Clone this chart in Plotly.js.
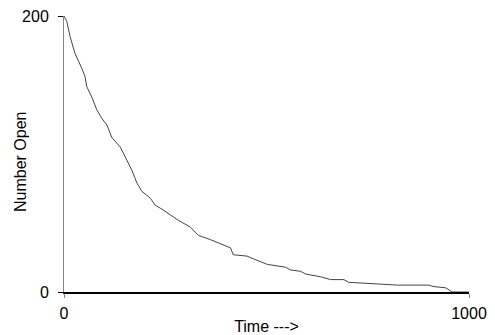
<!DOCTYPE html>
<html>
<head>
<meta charset="utf-8">
<script src="https://cdn.plot.ly/plotly-3.0.1.min.js"></script>
<style>html,body{margin:0;padding:0;background:#fff;}#chart{width:495px;height:335px;}</style>
</head>
<body>
<div id="chart"></div>
<script>
// Time values
var time = [0, 7, 15, 27, 44, 52, 56, 69, 81, 93, 106, 118, 139, 151, 168, 180, 192, 213, 225, 242, 257, 282, 312, 332, 361, 386, 411, 418, 452, 468, 502, 547, 559, 584, 597, 634, 658, 691, 703, 765, 823, 901, 911, 943, 955, 958, 1000];
// Number of channels open at each time
var numberOpen = [200, 196, 185, 173, 162, 156, 149, 141, 132, 126, 121, 112, 105, 98, 88, 79, 73, 68, 63, 60, 57, 52, 47, 41, 38, 35, 32, 27, 26, 24, 20, 18, 16, 15, 13, 11, 9, 9, 7, 6, 5, 5, 4, 3, 1, 0, 0];
var xTicks = [0, 1000];
var yTicks = [0, 200];

var trace = {
  x: time,
  y: numberOpen,
  type: 'scatter',
  mode: 'lines',
  line: {color: '#444444', width: 1},
  hoverinfo: 'skip'
};

var layout = {
  width: 495,
  height: 335,
  margin: {l: 64, r: 26, t: 16, b: 43},
  paper_bgcolor: '#ffffff',
  plot_bgcolor: '#ffffff',
  showlegend: false,
  font: {family: 'Liberation Sans, Arial, sans-serif', size: 16, color: '#000'},
  xaxis: {
    range: [0, 1000],
    tickvals: xTicks,
    ticktext: xTicks.map(String),
    showgrid: false,
    zeroline: false,
    showline: true,
    linecolor: '#000',
    linewidth: 2,
    ticks: 'outside',
    ticklen: 4,
    tickcolor: '#888',
    ticklabelstandoff: 2,
    tickfont: {size: 16},
    title: {text: 'Time --->', font: {size: 16}, standoff: 0}
  },
  yaxis: {
    range: [0, 200],
    tickvals: yTicks,
    ticktext: yTicks.map(String),
    showgrid: false,
    zeroline: false,
    showline: true,
    linecolor: '#888',
    linewidth: 1,
    ticks: 'outside',
    ticklen: 5,
    tickcolor: '#000',
    ticklabelstandoff: 6,
    tickfont: {size: 16}
  },
  annotations: [{
    text: 'Number Open',
    textangle: -90,
    xref: 'paper', yref: 'paper',
    x: 0, y: 0.5,
    xanchor: 'center', yanchor: 'middle',
    xshift: -44, yshift: -8,
    showarrow: false,
    font: {size: 16, color: '#000'}
  }]
};

Plotly.newPlot('chart', [trace], layout, {staticPlot: true, displayModeBar: false});
</script>
</body>
</html>
